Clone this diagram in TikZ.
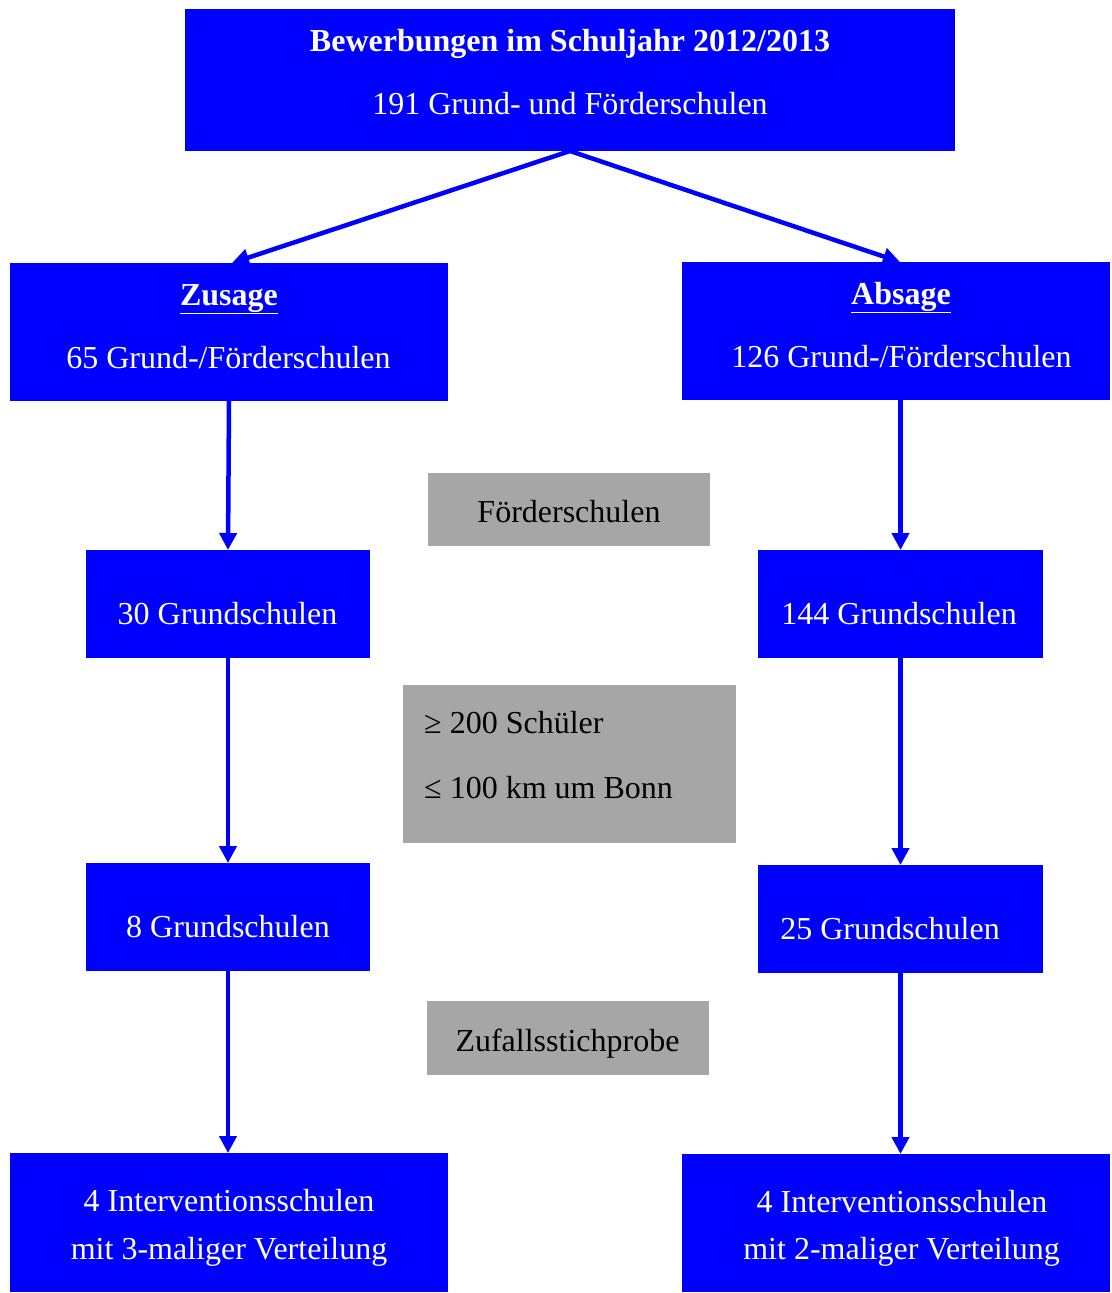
\documentclass[tikz,border=0pt]{standalone}
\usepackage{fontspec}
\setmainfont{Liberation Serif}
\usetikzlibrary{arrows.meta}
\begin{document}
\begin{tikzpicture}[x=1pt,y=-1pt,
  box/.style={draw=none, inner sep=0pt, outer sep=0pt},
  bluebox/.style={box, fill=blue},
  graybox/.style={box, fill={rgb,255:red,166;green,166;blue,166}},
  txt/.style={anchor=base, inner sep=0pt, font=\fontsize{32}{38}\selectfont},
  wt/.style={txt, text=white},
  bt/.style={txt, text=black},
  arr/.style={draw=blue, line width=4.5pt, -{Triangle[length=17pt,width=17pt]}}]
\useasboundingbox (0,0) rectangle (1111,1293);
% boxes
\node[bluebox, minimum width=770pt, minimum height=142pt] (top) at (570,80) {};
\node[bluebox, minimum width=438pt, minimum height=138pt] (zus) at (229,332) {};
\node[bluebox, minimum width=428pt, minimum height=138pt] (abs) at (896,331) {};
\node[graybox, minimum width=282pt, minimum height=73pt] (fs) at (569,509.5) {};
\node[bluebox, minimum width=284pt, minimum height=108pt] (g30) at (228,604) {};
\node[bluebox, minimum width=285pt, minimum height=108pt] (g144) at (900.5,604) {};
\node[graybox, minimum width=333pt, minimum height=158pt] (crit) at (569.5,764) {};
\node[bluebox, minimum width=284pt, minimum height=108pt] (g8) at (228,917) {};
\node[bluebox, minimum width=285pt, minimum height=108pt] (g25) at (900.5,919) {};
\node[graybox, minimum width=282pt, minimum height=74pt] (zf) at (568,1038) {};
\node[bluebox, minimum width=438pt, minimum height=139pt] (bl) at (229,1222.5) {};
\node[bluebox, minimum width=428pt, minimum height=138pt] (br) at (896,1223) {};
% texts
\node[wt] (t1) at (570,51) {\bfseries Bewerbungen im Schuljahr 2012/2013};
\node[wt] (t2) at (570,114) {191 Grund- und Förderschulen};
\node[wt] (t3) at (229,305) {\bfseries\underline{Zusage}};
\node[wt] (t4) at (228.5,368) {65 Grund-/Förderschulen};
\node[wt] (t5) at (901,304) {\bfseries\underline{Absage}};
\node[wt] (t6) at (901.5,367) {126 Grund-/Förderschulen};
\node[bt] (t7) at (569,522) {Förderschulen};
\node[wt] (t8) at (227.5,624) {30 Grundschulen};
\node[wt] (t9) at (899,624) {144 Grundschulen};
\node[bt, anchor=base west] (t10) at (424,733) {≥ 200 Schüler};
\node[bt, anchor=base west] (t11) at (424,798) {≤ 100 km um Bonn};
\node[wt] (t12) at (228,937) {8 Grundschulen};
\node[wt] (t13) at (890,939) {25 Grundschulen};
\node[bt] (t14) at (567.5,1051) {Zufallsstichprobe};
\node[wt] (t15) at (229,1211) {4 Interventionsschulen};
\node[wt] (t16) at (229,1259) {mit 3-maliger Verteilung};
\node[wt] (t17) at (902,1212) {4 Interventionsschulen};
\node[wt] (t18) at (901.5,1259) {mit 2-maliger Verteilung};
% arrows
\draw[arr] (top.south) -- ([xshift=3pt]zus.north);
\draw[arr] (top.south) -- ([xshift=4pt]abs.north);
\draw[arr] (zus.south) -- (g30.north);
\draw[arr] (g144.north |- abs.south) -- (g144.north);
\draw[arr] (g30.south) -- (g8.north);
\draw[arr] (g144.south) -- (g25.north);
\draw[arr] (g8.south) -- (g8.south |- bl.north);
\draw[arr] (g25.south) -- (g25.south |- br.north);
\end{tikzpicture}
\end{document}
